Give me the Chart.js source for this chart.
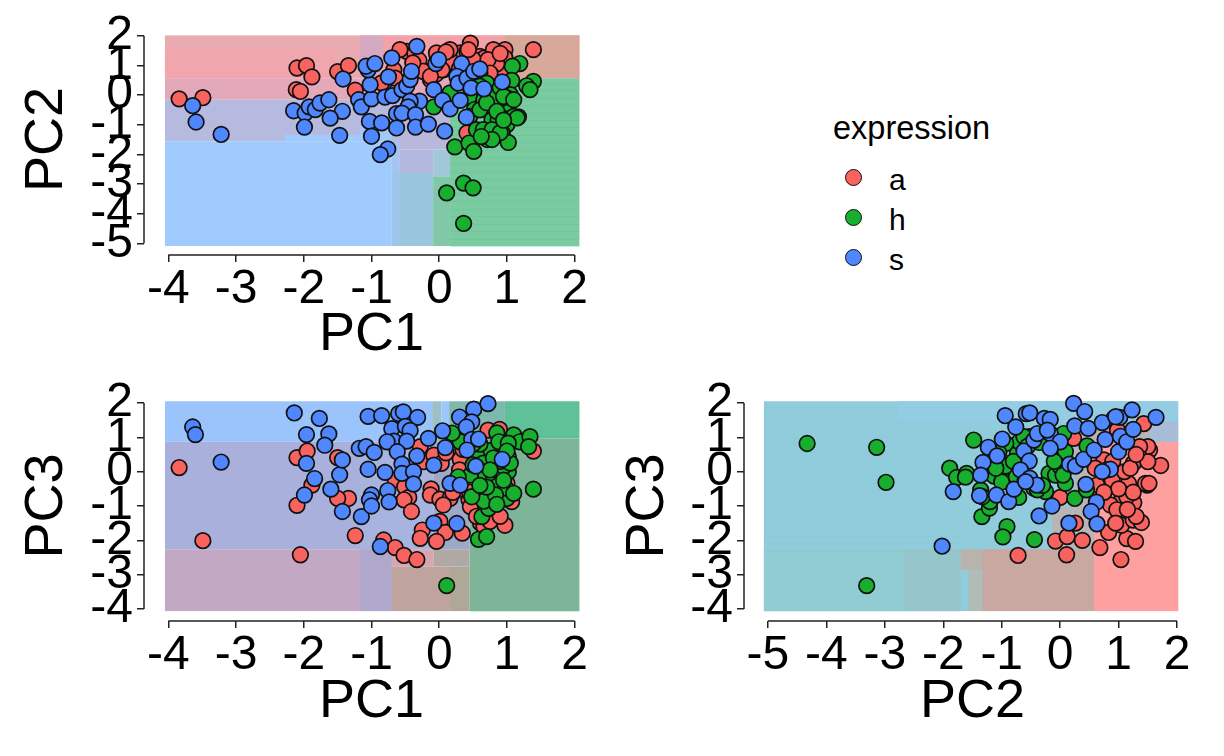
<!DOCTYPE html>
<html lang="en">

<head>
    <meta charset="UTF-8" />
    <title>PCA decision surfaces</title>
    <script src="https://cdn.jsdelivr.net/npm/chart.js"></script>
    <style>
        body { margin: 0; background: #fff; font-family: "Liberation Sans", Arial, sans-serif; color: #000; overflow: hidden; }
        canvas { position: absolute; }
        .leg { position: absolute; }
        .dot { position: absolute; width: 15px; height: 15px; border: 1.5px solid #111; border-radius: 50%; }
    </style>
</head>

<body>
    <canvas id="pc12"></canvas>
    <canvas id="pc13"></canvas>
    <canvas id="pc23"></canvas>
    <div id="legend"></div>

    <script>
        const classes = ["a", "h", "s"];
        const classColors = ["#F8625F", "#18AF2E", "#4F87FF"];
        const ticksPC1 = [-4, -3, -2, -1, 0, 1, 2];
        const ticksPC2 = [-5, -4, -3, -2, -1, 0, 1, 2];
        const ticksPC3 = [-4, -3, -2, -1, 0, 1, 2];

        // PC1 / PC2
        const pc12a = [[-3.84,-0.13],[-3.49,-0.09],[-2.10,0.91],[-1.96,0.99],[-1.88,0.61],[-2.11,0.18],[-2.05,0.12],[-1.50,0.79],[-1.34,0.99],[-1.24,0.16],[-0.82,0.40],[-0.67,0.85],[-0.65,0.57],[-0.48,1.47],[-0.36,1.42],[-0.30,1.17],[-0.21,0.80],[-0.13,0.52],[-0.03,1.30],[0.06,1.25],[0.06,0.85],[0.15,1.51],[0.31,1.42],[0.41,1.47],[0.46,1.75],[0.43,1.08],[0.60,1.30],[0.67,1.25],[0.74,1.19],[0.80,1.47],[0.97,1.53],[0.97,1.25],[1.39,1.53],[0.75,0.85],[0.65,0.85],[0.55,0.80],[0.95,0.80],[0.41,-1.28],[0.20,1.10],[0.50,1.20],[0.85,1.05],[-0.05,0.70],[-0.04,1.42],[0.16,1.53],[0.43,1.53],[0.80,1.53],[0.72,1.19],[-0.24,0.80],[-0.39,1.08],[0.04,0.85],[-0.13,0.63],[0.75,0.74],[0.60,0.74],[-0.58,1.53],[-0.85,0.41],[0.30,0.90],[0.10,1.45],[0.90,1.40]];
        const pc12h = [[-0.08,-0.40],[0.16,0.07],[0.45,-0.04],[0.52,-0.49],[0.45,-0.72],[0.23,-1.75],[0.44,-1.62],[0.51,-1.90],[0.11,-3.30],[0.36,-2.97],[0.50,-3.13],[0.36,-4.33],[1.19,1.06],[1.08,0.97],[1.39,0.46],[1.29,0.31],[1.34,0.18],[1.07,0.49],[0.97,0.01],[1.05,0.01],[1.00,-0.10],[0.82,-0.36],[1.02,-0.58],[1.17,-0.74],[1.10,-0.72],[0.90,-0.72],[0.80,-0.61],[0.70,-0.49],[0.78,-0.83],[1.00,-1.00],[0.93,-1.28],[1.02,-1.60],[0.66,-1.22],[0.55,-1.17],[0.73,-1.33],[0.71,-1.50],[0.73,-0.04],[0.66,-0.16],[0.85,-0.04],[0.70,0.40],[0.60,0.30],[0.90,0.25],[0.60,-0.50],[0.70,-0.26],[0.95,-0.05],[1.10,-0.16],[1.15,-0.77],[0.87,-0.83],[0.65,-1.17],[0.78,-1.17],[0.90,-1.27],[0.78,-1.50],[0.62,-1.40],[0.85,-0.55],[0.95,-0.85]];
        const pc12s = [[-3.64,-0.36],[-3.59,-0.91],[-3.22,-1.33],[-2.15,-0.53],[-1.98,-0.61],[-1.92,-0.40],[-1.83,-0.49],[-1.76,-0.27],[-1.63,-0.16],[-1.43,-0.55],[-1.61,-0.78],[-1.99,-1.08],[-1.47,-1.36],[-1.42,0.54],[-1.19,-0.16],[-1.15,-0.40],[-1.00,-0.13],[-1.02,0.35],[-1.05,0.85],[-1.08,0.97],[-0.95,1.06],[-1.03,-0.89],[-0.85,-0.94],[-1.00,-1.39],[-0.76,-1.82],[-0.87,-2.01],[-0.70,1.25],[-0.75,0.61],[-0.80,-0.07],[-0.69,-0.02],[-0.55,0.18],[-0.48,0.30],[-0.43,0.52],[-0.41,0.80],[-0.33,1.64],[-0.29,-0.21],[-0.43,-0.21],[-0.46,-0.40],[-0.63,-0.63],[-0.55,-0.61],[-0.35,-0.66],[-0.63,-1.11],[-0.35,-1.08],[-0.16,-0.98],[0.08,-1.22],[-0.08,0.18],[0.05,-0.18],[0.16,-0.47],[0.31,-0.18],[0.40,-0.75],[-0.05,1.06],[-0.01,1.19],[0.33,1.06],[0.26,0.63],[0.28,0.40],[0.41,0.57],[0.51,0.80],[0.60,0.88],[0.47,0.24],[0.66,0.21],[0.93,0.44]];

        // PC1 / PC3
        const pc13a = [[-3.84,0.12],[-3.49,-2.01],[-2.05,-2.42],[-2.10,0.41],[-1.95,0.60],[-1.88,-0.39],[-2.10,-0.98],[-1.50,0.41],[-1.34,-0.78],[-1.50,-0.78],[-1.24,-1.86],[-0.82,-1.99],[-0.65,-2.21],[-0.52,-2.44],[-0.33,-2.56],[-0.65,-0.24],[-0.51,-0.44],[-0.45,-0.75],[-0.52,-0.82],[-0.41,-1.16],[-0.28,0.73],[-0.23,0.29],[-0.08,0.48],[-0.12,-0.50],[-0.13,-0.68],[0.01,-0.80],[0.16,-0.78],[0.06,-0.97],[0.03,0.24],[-0.25,-1.70],[-0.28,-1.94],[0.01,-1.45],[0.09,-1.77],[-0.04,-2.03],[0.34,-1.79],[0.31,0.36],[0.28,-0.53],[0.44,-0.82],[0.46,-1.02],[0.61,-1.50],[0.66,-1.60],[0.75,-1.45],[0.97,-1.56],[0.72,1.21],[0.89,1.23],[1.39,0.60],[1.07,-0.87],[0.80,-1.06],[0.85,-0.53],[1.00,-0.34],[0.30,0.05],[0.10,0.55],[0.35,0.65],[0.45,-0.60],[0.55,-1.30],[0.90,-1.30],[0.20,-0.60],[1.10,0.90]];
        const pc13h = [[0.11,-3.32],[1.39,-0.51],[0.58,-1.97],[0.70,-1.89],[0.63,-1.31],[0.73,-1.07],[0.66,-0.86],[0.48,-0.73],[0.83,-0.36],[1.00,-0.78],[0.98,-0.48],[0.83,-0.68],[0.73,-0.05],[0.58,-0.15],[0.46,-0.10],[1.02,0.00],[0.95,0.15],[0.74,0.61],[0.85,1.13],[0.88,0.87],[1.10,1.07],[1.19,0.87],[1.34,1.02],[1.32,0.73],[1.02,0.83],[1.02,0.44],[0.31,0.87],[0.19,1.12],[0.28,-0.15],[0.56,0.44],[1.10,-0.63],[0.60,0.80],[0.90,0.30],[1.05,0.25],[0.70,-0.45],[0.50,0.20],[0.65,0.25],[0.80,0.40],[0.95,-0.25],[0.60,-0.40],[0.85,-0.95],[1.00,0.60],[0.50,0.80],[0.75,0.05]];
        const pc13s = [[-3.64,1.30],[-3.60,1.08],[-3.22,0.28],[-2.14,1.71],[-1.77,1.55],[-1.96,1.08],[-1.63,1.10],[-1.69,0.77],[-1.96,0.24],[-1.84,-0.20],[-1.99,-0.68],[-1.60,-0.51],[-1.47,-0.09],[-1.43,0.34],[-1.43,-1.16],[-1.15,-1.31],[-1.18,0.68],[-1.08,0.73],[-0.96,0.56],[-1.05,0.07],[-1.05,1.61],[-0.85,1.63],[-0.60,1.69],[-0.53,1.74],[-0.32,1.58],[-0.70,1.25],[-0.50,1.32],[-0.43,1.20],[-0.67,0.89],[-0.48,0.89],[-0.77,0.87],[-0.62,0.58],[-0.55,0.22],[-0.80,-0.02],[-0.55,-0.05],[-0.38,0.00],[-0.38,-0.36],[-0.33,0.46],[-0.76,-0.55],[-1.00,-0.68],[-1.03,-0.82],[-1.00,-1.00],[-0.74,-0.88],[-0.87,-2.18],[-0.16,0.97],[0.05,1.19],[0.09,0.70],[-0.08,0.19],[0.16,-0.34],[0.31,-0.39],[-0.08,-1.50],[0.26,-1.51],[0.30,1.59],[0.51,1.82],[0.72,1.98],[0.48,1.45],[0.40,1.30],[0.48,0.94],[0.58,0.95],[0.41,0.63],[0.54,0.16],[0.93,0.36]];

        // PC2 / PC3
        const pc23a = [[-0.72,-2.44],[-0.08,-2.02],[0.11,-2.42],[0.12,-1.89],[0.38,-2.00],[0.68,-2.21],[1.04,-2.56],[1.14,-1.95],[1.29,-2.03],[0.83,-1.77],[1.05,-1.56],[1.25,-1.41],[1.39,-1.48],[0.26,-1.50],[1.72,0.18],[1.53,0.63],[1.50,0.73],[1.36,0.73],[1.37,0.39],[1.25,0.24],[1.50,0.29],[1.43,1.40],[1.49,-0.39],[1.46,-0.34],[1.52,-0.34],[1.17,-0.34],[0.89,-0.24],[0.75,0.34],[1.06,-0.79],[1.26,-0.90],[0.86,-0.97],[0.97,-1.11],[1.14,-0.73],[0.63,-0.39],[0.00,-0.75],[0.23,0.97],[0.92,1.55],[0.98,1.21],[1.30,-1.30],[0.90,0.30],[1.10,0.00],[1.20,0.10],[1.00,-0.50],[0.75,-0.60],[1.15,-1.10],[0.95,-1.50],[1.30,0.50],[0.60,0.10],[1.25,-0.60],[0.80,0.05]];
        const pc23h = [[-4.33,0.82],[-3.14,0.71],[-2.98,-0.31],[-3.31,-3.32],[-1.48,0.92],[-1.89,0.10],[-1.77,-0.17],[-1.60,-0.05],[-1.62,-0.16],[-1.34,-1.31],[-1.21,-1.06],[-1.20,-0.87],[-1.36,-0.53],[-1.33,-0.73],[-0.91,-1.60],[-0.98,-1.90],[-0.44,-1.98],[-1.13,-0.13],[-0.93,0.16],[-0.88,-0.29],[-0.71,-0.75],[-0.45,-0.48],[-0.25,-0.58],[-0.73,0.53],[-0.70,0.87],[-0.93,0.82],[-0.53,1.02],[-0.19,-0.05],[-0.08,-0.10],[0.00,0.15],[0.09,-0.34],[0.06,1.11],[0.09,0.58],[0.25,-0.78],[0.45,-0.53],[0.46,0.75],[-0.62,1.02],[-0.39,-0.53],[-1.20,0.25],[-1.05,0.55],[-1.00,-0.30],[-0.75,-0.15],[-0.60,-0.25],[-0.30,-0.40],[-0.80,0.30],[-0.55,0.75],[-0.35,0.85],[-0.10,0.30],[0.05,-0.10],[-1.10,0.10]];
        const pc23s = [[-2.02,-2.17],[-1.83,-0.58],[-0.94,1.63],[-0.58,1.69],[-0.52,1.71],[-0.76,1.30],[-0.27,1.55],[-0.17,1.52],[-0.99,0.95],[-1.23,0.71],[-1.08,0.46],[-1.32,0.27],[-1.36,-0.10],[-1.38,-0.70],[-1.09,-0.68],[-0.88,-0.87],[-0.79,-0.51],[-0.62,0.60],[-0.53,0.31],[-0.68,0.05],[-0.45,0.92],[-0.39,1.11],[-0.17,1.11],[-0.22,1.21],[0.00,0.87],[-0.17,0.68],[-0.52,-0.19],[-0.40,-0.39],[-0.59,-0.29],[-0.36,-1.29],[-0.14,-1.00],[0.15,-1.50],[0.25,1.33],[0.23,1.99],[0.42,1.75],[0.48,1.26],[0.72,1.43],[0.16,0.22],[0.26,0.16],[0.40,0.36],[0.58,0.63],[0.44,-0.37],[0.62,-0.89],[0.53,-1.16],[0.63,-1.52],[0.77,0.94],[0.86,0.07],[0.72,0.00],[1.00,0.58],[1.03,1.03],[1.14,0.87],[1.02,1.58],[0.95,1.60],[1.23,1.80],[1.25,1.23],[1.64,1.58]];

        // decision surface cells as xmin, xmax, ymin, ymax, colour, painted in order
        const surface12 = [
            [-4.05,2.07,0.56,2.01,"#E9AAB0"],[-4.05,-1.54,0.56,1.53,"#F0A6AC"],[-1.17,-0.83,0.56,2.01,"#D6A9C2"],[-0.83,0.97,1.30,2.01,"#F3A2A9"],[0.97,2.07,0.56,2.01,"#D8A99A"],
            [-4.05,0.16,-0.16,0.56,"#E3A9BA"],[-4.05,0.16,-1.56,-0.16,"#B7BADF"],[-2.28,-0.70,-1.56,-1.34,"#A0CBFF"],[-1.17,-0.70,-1.34,-1.05,"#A6C6F8"],
            [-4.05,-0.70,-5.09,-1.56,"#A0CBFF"],[-0.70,0.16,-1.84,-0.16,"#B8B8DC"],[-0.70,-0.58,-2.63,-1.56,"#A6C4F0"],[-0.58,-0.09,-2.63,-1.84,"#B4B8DE"],
            [-0.70,-0.58,-5.09,-2.63,"#9FC5E8"],[-0.58,-0.09,-5.09,-2.63,"#99C6DC"],[-0.09,0.16,-2.74,-1.84,"#A0C8D8"],[-0.09,0.16,-5.09,-2.74,"#80C8A8"],
            [0.16,2.07,-5.09,0.56,"#7CCBA0"]
        ];
        const surface13 = [
            [-4.05,-0.105,0.87,2.05,"#9CC4FC"],[-4.05,-1.17,-2.26,0.87,"#A9B0DC"],[-4.05,-0.70,-4.06,-2.26,"#C3A8C4"],[-1.17,-0.70,-4.06,-2.26,"#B0A8CC"],
            [-1.17,-0.08,-2.26,0.87,"#A8B4E0"],[-0.08,0.45,-2.26,0.87,"#A0A8C8"],[-0.70,-0.08,-2.76,-2.26,"#D8A6B0"],
            [-0.105,0.03,0.87,2.05,"#9CC0C8"],[0.03,0.146,0.87,2.05,"#9CC8FC"],[0.146,0.97,0.87,2.05,"#80B8B0"],[0.97,2.07,0.97,2.05,"#60C098"],
            [-0.70,0.16,-4.06,-2.76,"#BEA49C"],[-0.08,0.45,-2.76,-2.26,"#B0A8A4"],[0.16,0.45,-4.06,-2.76,"#AFA898"],[0.45,2.07,-4.06,0.97,"#80B498"]
        ];
        const surface23 = [
            [-5.07,2.02,-4.06,2.05,"#90CCDC"],[-2.78,2.02,1.45,2.05,"#93CCE3"],[-5.07,-2.67,-4.06,-2.26,"#90CCD2"],[-2.67,-1.70,-4.06,-2.26,"#96C6CC"],
            [-1.70,-1.33,-2.86,-2.26,"#B8B4AC"],[-1.57,-1.33,-4.06,-2.86,"#B0BCB8"],[-1.33,0.58,-4.06,-2.26,"#C8A8A0"],
            [-0.14,0.58,-2.26,-1.02,"#B8B4B8"],[0.25,1.54,-1.02,1.45,"#B8B4B8"],[0.58,2.02,-4.06,0.87,"#FFA0A0"],[1.54,2.02,0.87,1.45,"#A8BCD8"]
        ];

        // greenish areas have thin horizontal bands left by the raster scaling
        const bands12 = [0.16, 2.07, -5.09, 0.56, 0.25];
        const bands13 = [0.45, 2.07, -4.06, 2.05, 0.22];
        const bands23 = [-5.07, -1.70, -4.06, 2.05, 0.22];

        const surfacePlugin = {
            id: "surface",
            beforeDatasetsDraw(chart, args, opts) {
                const { ctx, scales: { x, y } } = chart;
                ctx.save();
                opts.cells.forEach(([x0, x1, y0, y1, fill]) => {
                    ctx.fillStyle = fill;
                    ctx.fillRect(x.getPixelForValue(x0), y.getPixelForValue(y1),
                        x.getPixelForValue(x1) - x.getPixelForValue(x0),
                        y.getPixelForValue(y0) - y.getPixelForValue(y1));
                });
                const [bx0, bx1, by0, by1, step] = opts.bands;
                ctx.strokeStyle = opts.bandColor;
                ctx.lineWidth = 1;
                for (let v = by0; v < by1; v += step) {
                    const py = Math.round(y.getPixelForValue(v)) + 0.5;
                    ctx.beginPath();
                    ctx.moveTo(x.getPixelForValue(bx0), py);
                    ctx.lineTo(x.getPixelForValue(bx1), py);
                    ctx.stroke();
                }
                // axis lines only run between the first and last tick
                ctx.strokeStyle = "#222";
                ctx.lineWidth = 1.5;
                ctx.beginPath();
                ctx.moveTo(x.getPixelForValue(opts.xTicks[0]), y.bottom);
                ctx.lineTo(x.getPixelForValue(opts.xTicks[opts.xTicks.length - 1]), y.bottom);
                ctx.moveTo(x.left, y.getPixelForValue(opts.yTicks[0]));
                ctx.lineTo(x.left, y.getPixelForValue(opts.yTicks[opts.yTicks.length - 1]));
                ctx.stroke();
                ctx.restore();
            },
        };

        function axis(title, range, ticks, size, titlePad) {
            return {
                type: "linear",
                min: range[0],
                max: range[1],
                afterBuildTicks: (s) => { s.ticks = ticks.map((v) => ({ value: v })); },
                afterFit: (s) => { if (s.isHorizontal()) s.height = size; else s.width = size; },
                border: { display: false },
                grid: { drawOnChartArea: false, tickLength: 7, color: "#222", lineWidth: 1.5 },
                ticks: {
                    autoSkip: false, maxRotation: 0, minRotation: 0, padding: 4, color: "#000",
                    font: { family: "Liberation Sans", size: 48, lineHeight: 1 },
                    callback: (v) => String(v),
                },
                title: {
                    display: true, text: title, color: "#000", padding: titlePad,
                    font: { family: "Liberation Sans", size: 54, lineHeight: 1 },
                },
            };
        }

        function panel(id, box, pads, series, cells, bands, bandColor, xAxis, yAxis) {
            const canvas = document.getElementById(id);
            canvas.style.left = box[0] + "px";
            canvas.style.top = box[1] + "px";
            canvas.width = box[2];
            canvas.height = box[3];
            new Chart(canvas, {
                type: "scatter",
                data: {
                    datasets: series.map((pts, i) => ({
                        label: classes[i],
                        data: pts.map(([x, y]) => ({ x, y })),
                        backgroundColor: classColors[i],
                        borderColor: "#111",
                        borderWidth: 1.7,
                        pointRadius: 7.8,
                        order: 3 - i,
                        clip: false,
                    })),
                },
                options: {
                    responsive: false,
                    animation: false,
                    layout: { padding: pads },
                    plugins: {
                        legend: { display: false },
                        tooltip: { enabled: false },
                        surface: { cells, bands, bandColor, xTicks: xAxis.ticksList, yTicks: yAxis.ticksList },
                    },
                    scales: {
                        x: axis(xAxis.title, xAxis.range, xAxis.ticksList, xAxis.size, xAxis.pad),
                        y: axis(yAxis.title, yAxis.range, yAxis.ticksList, yAxis.size, yAxis.pad),
                    },
                },
                plugins: [surfacePlugin],
            });
        }

        const rangePC1 = [-4.359, 2.359];
        panel("pc12", [0, -20, 630, 390], { top: 44, right: 31 }, [pc12a, pc12h, pc12s], surface12, bands12, "rgba(60,205,160,0.3)",
            { title: "PC1", range: rangePC1, ticksList: ticksPC1, size: 115, pad: { bottom: 8 } },
            { title: "PC2", range: [-5.394, 2.394], ticksList: ticksPC2, size: 144, pad: { top: 20 } });
        panel("pc13", [0, 350, 630, 400], { top: 41, right: 31 }, [pc13a, pc13h, pc13s], surface13, bands13, "rgba(60,205,160,0.22)",
            { title: "PC1", range: rangePC1, ticksList: ticksPC1, size: 129, pad: { bottom: 21 } },
            { title: "PC3", range: [-4.349, 2.349], ticksList: ticksPC3, size: 144, pad: { top: 20 } });
        panel("pc23", [610, 350, 614, 400], { top: 41, right: 23 }, [pc23a, pc23h, pc23s], surface23, bands23, "rgba(90,205,190,0.12)",
            { title: "PC2", range: [-5.41, 2.41], ticksList: ticksPC2, size: 129, pad: { bottom: 21 } },
            { title: "PC3", range: [-4.349, 2.349], ticksList: ticksPC3, size: 134, pad: { top: 11 } });

        // legend
        const legend = document.getElementById("legend");
        let html = '<div class="leg" style="left:833px;top:110px;font-size:32.5px;line-height:36px">expression</div>';
        classes.forEach((c, i) => {
            const top = 178 + i * 40;
            html += '<div class="dot" style="left:845px;top:' + (top - 9) + 'px;background:' + classColors[i] + '"></div>';
            html += '<div class="leg" style="left:889px;top:' + (top - 16) + 'px;font-size:30px;line-height:36px">' + c + '</div>';
        });
        legend.innerHTML = html;
    </script>
</body>

</html>
